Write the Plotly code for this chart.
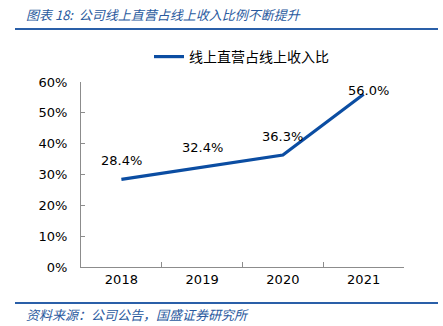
import plotly.graph_objects as go

# Share of online revenue from direct online channels
years = ["2018", "2019", "2020", "2021"]
share = [0.284, 0.324, 0.363, 0.560]
labels = ["28.4%", "32.4%", "36.3%", "56.0%"]
series_name = "线上直营占线上收入比"
title_text = "图表 18:  公司线上直营占线上收入比例不断提升"
source_text = "资料来源：公司公告，国盛证券研究所"

# label offsets (px) relative to each point
label_dx = [0, 0, 0, 5]
label_dy = [19, 20, 19, 4]

W, H = 443, 326
ML, MR, MT, MB = 81, 39, 82, 59
PW, PH = W - ML - MR, H - MT - MB

line_color = "#0B4DA2"
accent = "#2A5FA8"
num_font = "DejaVu Sans"
cjk_font = "Noto Sans CJK SC"


def px_to_paper_x(px):
    return (px - ML) / PW


def px_to_paper_y(py):
    return (H - MB - py) / PH


fig = go.Figure()
fig.add_trace(go.Scatter(
    x=years, y=share, mode="lines", name=series_name,
    line=dict(color=line_color, width=3.2),
))

# value labels; on a category axis annotations are positioned by category index
for i, (v, t, dx, dy) in enumerate(zip(share, labels, label_dx, label_dy)):
    fig.add_annotation(x=i, y=v, text=t, showarrow=False,
                       xshift=dx, yshift=dy,
                       font=dict(family=num_font, size=13, color="#000000"))

# header / footer rules
for py in (29, 303):
    fig.add_shape(type="line", xref="paper", yref="paper",
                  x0=px_to_paper_x(15), x1=px_to_paper_x(438),
                  y0=px_to_paper_y(py), y1=px_to_paper_y(py),
                  line=dict(color=accent, width=2))

fig.add_annotation(xref="paper", yref="paper", x=px_to_paper_x(24), y=px_to_paper_y(15),
                   xanchor="left", yanchor="middle", text=title_text, showarrow=False,
                   font=dict(family=cjk_font, size=13, color="#2A5A9E", style="italic"))
fig.add_annotation(xref="paper", yref="paper", x=px_to_paper_x(24), y=px_to_paper_y(314),
                   xanchor="left", yanchor="middle", text=source_text, showarrow=False,
                   font=dict(family=cjk_font, size=13, color="#2A5A9E", style="italic"))

fig.update_layout(
    width=W, height=H,
    margin=dict(l=ML, r=MR, t=MT, b=MB),
    paper_bgcolor="white", plot_bgcolor="white",
    showlegend=True,
    legend=dict(x=px_to_paper_x(149), y=px_to_paper_y(57), xanchor="left", yanchor="middle",
                orientation="h", bgcolor="rgba(0,0,0,0)",
                font=dict(family=cjk_font, size=14, color="#000000")),
    xaxis=dict(type="category", range=[-0.5, len(years) - 0.5],
               showline=True, linecolor="#8C8C8C", linewidth=1,
               ticks="inside", tickson="boundaries", ticklen=5, tickcolor="#8C8C8C",
               showgrid=False, zeroline=False,
               tickfont=dict(family=num_font, size=13, color="#000000")),
    yaxis=dict(range=[0, 0.6], dtick=0.1, tickformat=".0%", showline=True,
               linecolor="#8C8C8C", linewidth=1, ticks="inside", ticklen=4,
               tickcolor="#8C8C8C", showgrid=False, zeroline=False,
               ticklabelstandoff=10,
               tickfont=dict(family=num_font, size=13, color="#000000")),
)

fig.write_html("out.html")
